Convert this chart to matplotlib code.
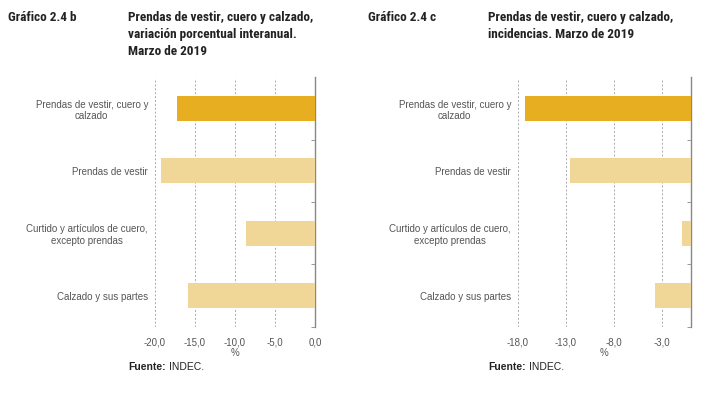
import matplotlib.pyplot as plt
from matplotlib.ticker import FixedLocator
from matplotlib import font_manager

plt.rcParams['font.family'] = ['Liberation Sans', 'DejaVu Sans']

# Datos
categorias = ['Prendas de vestir, cuero y\ncalzado',
              'Prendas de vestir',
              'Curtido y artículos de cuero,\nexcepto prendas',
              'Calzado y sus partes']
variacion = [-17.3, -19.2, -8.6, -15.9]
incidencia = [-17.3, -12.6, -0.9, -3.7]
ticks_b = [-20.0, -15.0, -10.0, -5.0, 0.0]
ticks_c = [-18.0, -13.0, -8.0, -3.0]

col_total = '#E8AE22'
col_resto = '#F0D697'
gris = '#555555'

# fuente condensada si existe
nombres = {f.name for f in font_manager.fontManager.ttflist}
tf = ['DejaVu Sans']
for n in ['Liberation Sans Narrow', 'DejaVu Sans Condensed', 'Roboto Condensed']:
    if n in nombres:
        tf = [n, 'DejaVu Sans']
        break

fig = plt.figure(figsize=(7.04, 3.98), dpi=100)

def dibujar(ax, valores, ticks, xmin):
    colores = [col_total] + [col_resto] * (len(valores) - 1)
    y = list(range(len(valores)))
    ax.barh(y, valores, height=0.4, color=colores, zorder=3)
    ax.set_ylim(len(valores) - 0.5, -0.5)
    ax.set_xlim(xmin, 0)
    ax.set_xticks(ticks)
    ax.set_xticklabels([('%.1f' % t).replace('.', ',') for t in ticks],
                       fontsize=7, color=gris)
    ax.grid(axis='x', linestyle=(0, (2, 2)), color='#aaaaaa', linewidth=0.7, zorder=0)
    for s in ['top', 'left', 'bottom']:
        ax.spines[s].set_visible(False)
    ax.spines['right'].set_color('#888888')
    ax.spines['right'].set_linewidth(1.0)
    ax.tick_params(axis='x', length=0, pad=8)
    ax.set_yticks(y)
    ax.set_yticklabels(categorias, fontsize=7, color=gris, ha='right',
                       multialignment='center')
    ax.tick_params(axis='y', length=0, pad=5)
    ax.yaxis.set_minor_locator(FixedLocator([0.5, 1.5, 2.5, 3.5]))
    ax.tick_params(axis='y', which='minor', direction='in', length=3,
                   color='#888888', left=False, right=True)
    ax.set_xlabel('%', fontsize=7, color=gris, labelpad=0)

ax1 = fig.add_axes([155 / 704, 1 - 326.7 / 398, 160 / 704, 249.2 / 398])
dibujar(ax1, variacion, ticks_b, -20)

ax2 = fig.add_axes([518 / 704, 1 - 326.7 / 398, 173 / 704, 249.2 / 398])
dibujar(ax2, incidencia, ticks_c, -18)

# Títulos
tam = 9.5 if tf[0] != 'DejaVu Sans' else 7.3
fig.text(8 / 704, 1 - 11 / 398, 'Gráfico 2.4 b', fontsize=tam, fontweight='bold',
         family=tf, va='top', color='#222222')
fig.text(128 / 704, 1 - 11 / 398,
         'Prendas de vestir, cuero y calzado,\nvariación porcentual interanual.\nMarzo de 2019',
         fontsize=tam, fontweight='bold', family=tf, va='top', color='#222222',
         linespacing=1.4)
fig.text(368 / 704, 1 - 11 / 398, 'Gráfico 2.4 c', fontsize=tam, fontweight='bold',
         family=tf, va='top', color='#222222')
fig.text(488 / 704, 1 - 11 / 398,
         'Prendas de vestir, cuero y calzado,\nincidencias. Marzo de 2019',
         fontsize=tam, fontweight='bold', family=tf, va='top', color='#222222',
         linespacing=1.4)

# Fuente
for x in [128, 488]:
    t = fig.text(x / 704, 1 - 367 / 398, 'Fuente:', fontsize=7.5, fontweight='bold',
                 va='center', color='#222222')
    fig.canvas.draw()
    bb = t.get_window_extent()
    fig.text((bb.x1 + 3) / 704, 1 - 367 / 398, 'INDEC.', fontsize=7.5,
             va='center', color='#222222')

fig.savefig('out.png', dpi=100)
